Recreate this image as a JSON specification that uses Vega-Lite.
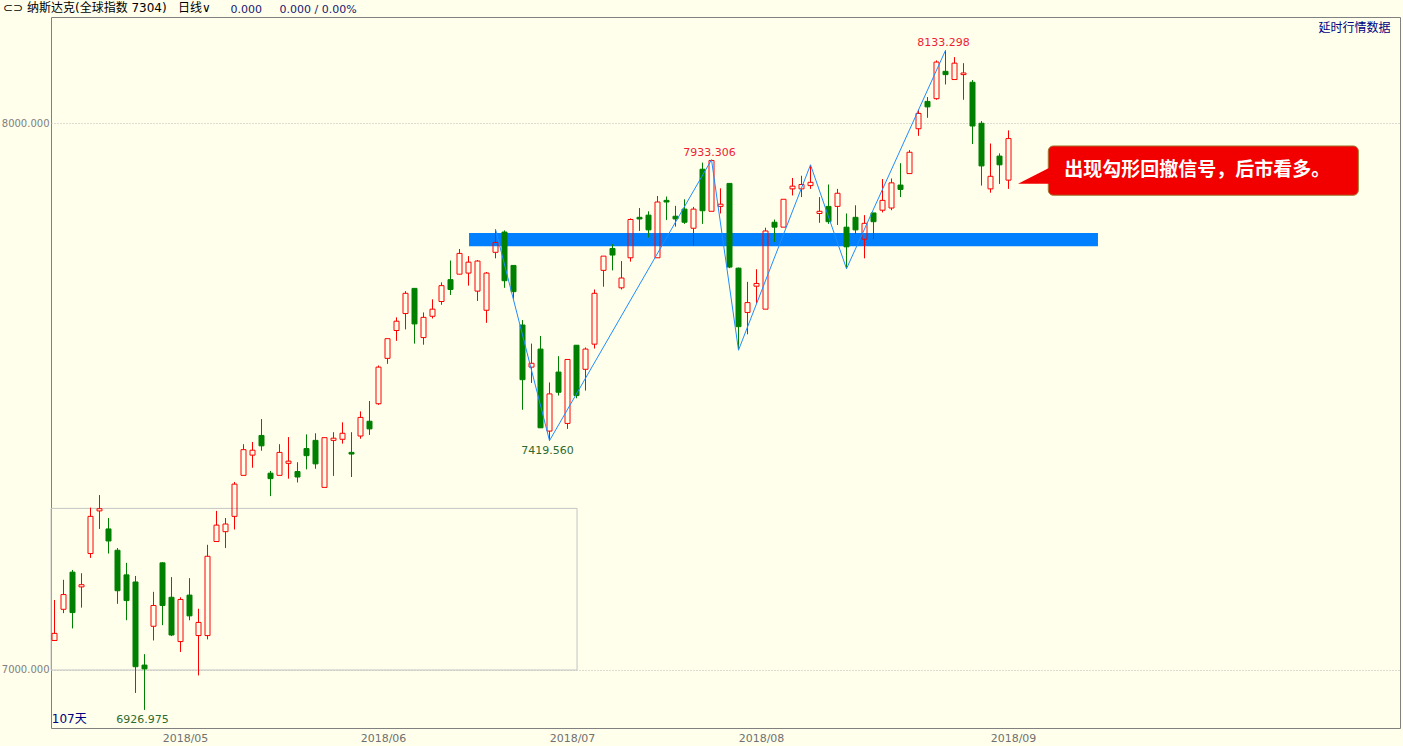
{
  "$schema": "https://vega.github.io/schema/vega-lite/v6.json",
  "width": 1349,
  "height": 711,
  "autosize": {"type": "none"},
  "padding": {"left": 51, "top": 17, "right": 3, "bottom": 18},
  "background": "#FFFFEC",
  "config": {
    "view": {"stroke": "#808080", "strokeWidth": 1, "fill": "#FFFFEC"},
    "axisX": {
      "labelFont": "DejaVu Sans", "labelFontSize": 11, "labelColor": "#707070",
      "ticks": false, "domain": false, "grid": false, "labelPadding": 4,
      "labelFlush": false, "labelOverlap": false,
      "titleFont": "Noto Sans CJK SC", "titleFontSize": 12, "titleFontWeight": "normal", "titleColor": "#000080"
    },
    "axisY": {
      "labelFont": "DejaVu Sans", "labelFontSize": 10, "labelColor": "#808080",
      "ticks": false, "domain": false, "grid": true, "gridColor": "#B8B8B8", "gridDash": [1, 2],
      "labelPadding": 2,
      "titleFont": "DejaVu Sans", "titleFontSize": 11, "titleFontWeight": "normal", "titleColor": "#191970"
    }
  },
  "datasets": {
    "k": [
      {"date":"2018-04-11","i":0,"o":7054,"h":7128,"l":7054,"c":7067},
      {"date":"2018-04-12","i":1,"o":7111,"h":7165,"l":7104,"c":7138},
      {"date":"2018-04-13","i":2,"o":7179,"h":7183,"l":7076,"c":7105},
      {"date":"2018-04-16","i":3,"o":7152,"h":7177,"l":7114,"c":7156},
      {"date":"2018-04-17","i":4,"o":7213,"h":7297,"l":7205,"c":7281},
      {"date":"2018-04-18","i":5,"o":7291,"h":7320,"l":7258,"c":7295},
      {"date":"2018-04-19","i":6,"o":7258,"h":7278,"l":7213,"c":7236},
      {"date":"2018-04-20","i":7,"o":7219,"h":7223,"l":7121,"c":7145},
      {"date":"2018-04-23","i":8,"o":7174,"h":7196,"l":7091,"c":7127},
      {"date":"2018-04-24","i":9,"o":7161,"h":7172,"l":6958,"c":7006},
      {"date":"2018-04-25","i":10,"o":7009,"h":7029,"l":6926.975,"c":7002},
      {"date":"2018-04-26","i":11,"o":7080,"h":7143,"l":7054,"c":7118},
      {"date":"2018-04-27","i":12,"o":7196,"h":7197,"l":7082,"c":7118},
      {"date":"2018-04-30","i":13,"o":7133,"h":7170,"l":7062,"c":7064},
      {"date":"2018-05-01","i":14,"o":7052,"h":7133,"l":7033,"c":7129},
      {"date":"2018-05-02","i":15,"o":7137,"h":7168,"l":7091,"c":7099},
      {"date":"2018-05-03","i":16,"o":7063,"h":7112,"l":6990,"c":7087},
      {"date":"2018-05-04","i":17,"o":7063,"h":7229,"l":7056,"c":7208},
      {"date":"2018-05-07","i":18,"o":7235,"h":7291,"l":7235,"c":7265},
      {"date":"2018-05-08","i":19,"o":7253,"h":7278,"l":7223,"c":7267},
      {"date":"2018-05-09","i":20,"o":7281,"h":7344,"l":7257,"c":7340},
      {"date":"2018-05-10","i":21,"o":7356,"h":7413,"l":7356,"c":7403},
      {"date":"2018-05-11","i":22,"o":7393,"h":7417,"l":7370,"c":7402},
      {"date":"2018-05-14","i":23,"o":7429,"h":7459,"l":7401,"c":7410},
      {"date":"2018-05-15","i":24,"o":7360,"h":7364,"l":7318,"c":7350},
      {"date":"2018-05-16","i":25,"o":7356,"h":7413,"l":7356,"c":7398},
      {"date":"2018-05-17","i":26,"o":7378,"h":7426,"l":7350,"c":7382},
      {"date":"2018-05-18","i":27,"o":7363,"h":7380,"l":7343,"c":7353},
      {"date":"2018-05-21","i":28,"o":7405,"h":7431,"l":7367,"c":7392},
      {"date":"2018-05-22","i":29,"o":7420,"h":7433,"l":7368,"c":7377},
      {"date":"2018-05-23","i":30,"o":7334,"h":7425,"l":7334,"c":7425},
      {"date":"2018-05-24","i":31,"o":7420,"h":7435,"l":7355,"c":7424},
      {"date":"2018-05-25","i":32,"o":7422,"h":7453,"l":7414,"c":7433},
      {"date":"2018-05-29","i":33,"o":7398,"h":7435,"l":7353,"c":7395},
      {"date":"2018-05-30","i":34,"o":7428,"h":7473,"l":7423,"c":7462},
      {"date":"2018-05-31","i":35,"o":7455,"h":7492,"l":7430,"c":7441},
      {"date":"2018-06-01","i":36,"o":7487,"h":7557,"l":7485,"c":7554},
      {"date":"2018-06-04","i":37,"o":7570,"h":7606,"l":7560,"c":7606},
      {"date":"2018-06-05","i":38,"o":7621,"h":7645,"l":7602,"c":7638},
      {"date":"2018-06-06","i":39,"o":7652,"h":7693,"l":7623,"c":7689},
      {"date":"2018-06-07","i":40,"o":7698,"h":7698,"l":7597,"c":7633},
      {"date":"2018-06-08","i":41,"o":7608,"h":7654,"l":7595,"c":7645},
      {"date":"2018-06-11","i":42,"o":7647,"h":7678,"l":7643,"c":7660},
      {"date":"2018-06-12","i":43,"o":7674,"h":7709,"l":7668,"c":7703},
      {"date":"2018-06-13","i":44,"o":7714,"h":7749,"l":7686,"c":7696},
      {"date":"2018-06-14","i":45,"o":7724,"h":7770,"l":7724,"c":7762},
      {"date":"2018-06-15","i":46,"o":7726,"h":7757,"l":7703,"c":7746},
      {"date":"2018-06-18","i":47,"o":7693,"h":7750,"l":7675,"c":7748},
      {"date":"2018-06-19","i":48,"o":7658,"h":7728,"l":7635,"c":7726},
      {"date":"2018-06-20","i":49,"o":7764,"h":7806,"l":7753,"c":7782},
      {"date":"2018-06-21","i":50,"o":7801,"h":7804,"l":7699,"c":7712},
      {"date":"2018-06-22","i":51,"o":7740,"h":7740,"l":7679,"c":7692},
      {"date":"2018-06-25","i":52,"o":7631,"h":7640,"l":7476,"c":7531},
      {"date":"2018-06-26","i":53,"o":7554,"h":7597,"l":7525,"c":7561},
      {"date":"2018-06-27","i":54,"o":7587,"h":7611,"l":7443,"c":7443},
      {"date":"2018-06-28","i":55,"o":7437,"h":7526,"l":7419.56,"c":7505},
      {"date":"2018-06-29","i":56,"o":7545,"h":7574,"l":7502,"c":7508},
      {"date":"2018-07-02","i":57,"o":7451,"h":7568,"l":7441,"c":7568},
      {"date":"2018-07-03","i":58,"o":7594,"h":7594,"l":7497,"c":7502},
      {"date":"2018-07-05","i":59,"o":7550,"h":7590,"l":7511,"c":7587},
      {"date":"2018-07-06","i":60,"o":7596,"h":7696,"l":7588,"c":7689},
      {"date":"2018-07-09","i":61,"o":7731,"h":7757,"l":7701,"c":7757},
      {"date":"2018-07-10","i":62,"o":7771,"h":7779,"l":7731,"c":7759},
      {"date":"2018-07-11","i":63,"o":7699,"h":7748,"l":7696,"c":7717},
      {"date":"2018-07-12","i":64,"o":7754,"h":7826,"l":7747,"c":7824},
      {"date":"2018-07-13","i":65,"o":7828,"h":7845,"l":7803,"c":7825},
      {"date":"2018-07-16","i":66,"o":7832,"h":7839,"l":7791,"c":7805},
      {"date":"2018-07-17","i":67,"o":7754,"h":7867,"l":7754,"c":7856},
      {"date":"2018-07-18","i":68,"o":7859,"h":7866,"l":7823,"c":7856},
      {"date":"2018-07-19","i":69,"o":7830,"h":7849,"l":7811,"c":7825},
      {"date":"2018-07-20","i":70,"o":7843,"h":7861,"l":7816,"c":7819},
      {"date":"2018-07-23","i":71,"o":7808,"h":7847,"l":7776,"c":7843},
      {"date":"2018-07-24","i":72,"o":7916,"h":7928,"l":7816,"c":7840},
      {"date":"2018-07-25","i":73,"o":7839,"h":7933.306,"l":7839,"c":7932},
      {"date":"2018-07-26","i":74,"o":7848,"h":7881,"l":7835,"c":7852},
      {"date":"2018-07-27","i":75,"o":7890,"h":7890,"l":7735,"c":7737},
      {"date":"2018-07-30","i":76,"o":7735,"h":7736,"l":7585,"c":7628},
      {"date":"2018-07-31","i":77,"o":7654,"h":7710,"l":7614,"c":7672},
      {"date":"2018-08-01","i":78,"o":7702,"h":7733,"l":7670,"c":7707},
      {"date":"2018-08-02","i":79,"o":7660,"h":7809,"l":7660,"c":7803},
      {"date":"2018-08-03","i":80,"o":7819,"h":7824,"l":7783,"c":7810},
      {"date":"2018-08-06","i":81,"o":7810,"h":7861,"l":7810,"c":7861},
      {"date":"2018-08-07","i":82,"o":7880,"h":7900,"l":7868,"c":7885},
      {"date":"2018-08-08","i":83,"o":7880,"h":7904,"l":7865,"c":7888},
      {"date":"2018-08-09","i":84,"o":7886,"h":7924,"l":7880,"c":7892},
      {"date":"2018-08-10","i":85,"o":7835,"h":7865,"l":7818,"c":7839},
      {"date":"2018-08-13","i":86,"o":7848,"h":7888,"l":7816,"c":7820},
      {"date":"2018-08-14","i":87,"o":7848,"h":7880,"l":7814,"c":7872},
      {"date":"2018-08-15","i":88,"o":7810,"h":7835,"l":7734,"c":7774},
      {"date":"2018-08-16","i":89,"o":7828,"h":7850,"l":7797,"c":7805},
      {"date":"2018-08-17","i":90,"o":7788,"h":7832,"l":7753,"c":7817},
      {"date":"2018-08-20","i":91,"o":7836,"h":7836,"l":7788,"c":7820},
      {"date":"2018-08-21","i":92,"o":7841,"h":7898,"l":7837,"c":7859},
      {"date":"2018-08-22","i":93,"o":7845,"h":7899,"l":7841,"c":7891},
      {"date":"2018-08-23","i":94,"o":7887,"h":7927,"l":7865,"c":7879},
      {"date":"2018-08-24","i":95,"o":7908,"h":7951,"l":7908,"c":7947},
      {"date":"2018-08-27","i":96,"o":7990,"h":8025,"l":7977,"c":8018},
      {"date":"2018-08-28","i":97,"o":8040,"h":8048,"l":8010,"c":8030},
      {"date":"2018-08-29","i":98,"o":8045,"h":8115,"l":8043,"c":8112},
      {"date":"2018-08-30","i":99,"o":8095,"h":8133.298,"l":8071,"c":8089},
      {"date":"2018-08-31","i":100,"o":8080,"h":8121,"l":8080,"c":8110},
      {"date":"2018-09-04","i":101,"o":8089,"h":8110,"l":8043,"c":8092},
      {"date":"2018-09-05","i":102,"o":8075,"h":8079,"l":7962,"c":7995},
      {"date":"2018-09-06","i":103,"o":8000,"h":8004,"l":7886,"c":7922},
      {"date":"2018-09-07","i":104,"o":7880,"h":7963,"l":7873,"c":7903},
      {"date":"2018-09-10","i":105,"o":7940,"h":7945,"l":7889,"c":7924},
      {"date":"2018-09-11","i":106,"o":7896,"h":7987,"l":7880,"c":7972}
    ],
    "zz": [
      {"i":49,"p":7806},
      {"i":55,"p":7419.56},
      {"i":73,"p":7933.306},
      {"i":76,"p":7585},
      {"i":84,"p":7924},
      {"i":88,"p":7734},
      {"i":99,"p":8133.298}
    ],
    "ext": [
      {"i":10,"p":6926.975,"t":"6926.975","k":"low"},
      {"i":55,"p":7419.56,"t":"7419.560","k":"low"},
      {"i":73,"p":7933.306,"t":"7933.306","k":"high"},
      {"i":99,"p":8133.298,"t":"8133.298","k":"high"}
    ],
    "band": [{"i1":46.06,"i2":115.94,"p1":7775.1,"p2":7799.5}],
    "box": [{"i1":-0.3889,"i2":58.06,"p1":7000,"p2":7295.6}],
    "call": [{"i1":110.42,"i2":144.87,"p1":7868.4,"p2":7958.5,"ti":112.2,"tp":7914.1,"t":"出现勾形回撤信号，后市看多。"}],
    "ptr": [
      {"i":107.06,"top":7889.4,"bot":7889.4},
      {"i":110.6,"top":7919.0,"bot":7889.4}
    ],
    "note": [{"i":-0.3,"p":6910.4,"t":"107天"}],
    "head": [{"i":-5.72,"p":8210,"t":"⊂⊃ 纳斯达克(全球指数 7304)\u00a0\u00a0\u00a0日线∨"}]
  },
  "layer": [
    {
      "data": {"name": "box"},
      "mark": {"type": "rect", "fill": null, "fillOpacity": 0, "stroke": "#C4C4C4", "strokeWidth": 1},
      "encoding": {
        "x": {"field": "i1", "type": "quantitative", "scale": {"domain": [-0.3889, 149.5], "nice": false, "zero": false, "padding": 0},
              "axis": {"values": [14.5, 36.5, 57.5, 78.5, 106.5], "labelExpr": "datum.value < 20 ? '2018/05' : datum.value < 40 ? '2018/06' : datum.value < 60 ? '2018/07' : datum.value < 90 ? '2018/08' : '2018/09'", "title": "延时行情数据", "titleX": 1339, "titleY": -701, "titleAlign": "right", "titleBaseline": "middle", "titleAngle": 0}},
        "x2": {"field": "i2"},
        "y": {"field": "p1", "type": "quantitative", "scale": {"domain": [6893.9, 8194.4], "nice": false, "zero": false},
              "axis": {"values": [7000, 8000], "format": ".3f", "title": "0.000\u00a0\u00a0\u00a0\u00a0\u00a00.000 / 0.00%", "titleX": 179, "titleY": -8, "titleAngle": 0, "titleAlign": "left", "titleBaseline": "middle"}},
        "y2": {"field": "p2"}
      }
    },
    {
      "data": {"name": "band"},
      "mark": {"type": "rect", "color": "#0080FF"},
      "encoding": {
        "x": {"field": "i1", "type": "quantitative", "scale": {"domain": [-0.3889, 149.5], "nice": false, "zero": false, "padding": 0},
              "axis": {"values": [14.5, 36.5, 57.5, 78.5, 106.5], "labelExpr": "datum.value < 20 ? '2018/05' : datum.value < 40 ? '2018/06' : datum.value < 60 ? '2018/07' : datum.value < 90 ? '2018/08' : '2018/09'", "title": "延时行情数据", "titleX": 1339, "titleY": -701, "titleAlign": "right", "titleBaseline": "middle", "titleAngle": 0}},
        "x2": {"field": "i2"},
        "y": {"field": "p1", "type": "quantitative", "scale": {"domain": [6893.9, 8194.4], "nice": false, "zero": false},
              "axis": {"values": [7000, 8000], "format": ".3f", "title": "0.000\u00a0\u00a0\u00a0\u00a0\u00a00.000 / 0.00%", "titleX": 179, "titleY": -8, "titleAngle": 0, "titleAlign": "left", "titleBaseline": "middle"}},
        "y2": {"field": "p2"}
      }
    },
    {
      "data": {"name": "k"},
      "transform": [{"filter": "datum.c < datum.o"}],
      "mark": {"type": "rule", "color": "#008000", "strokeWidth": 1},
      "encoding": {
        "x": {"field": "i", "type": "quantitative", "scale": {"domain": [-0.3889, 149.5], "nice": false, "zero": false, "padding": 0},
              "axis": {"values": [14.5, 36.5, 57.5, 78.5, 106.5], "labelExpr": "datum.value < 20 ? '2018/05' : datum.value < 40 ? '2018/06' : datum.value < 60 ? '2018/07' : datum.value < 90 ? '2018/08' : '2018/09'", "title": "延时行情数据", "titleX": 1339, "titleY": -701, "titleAlign": "right", "titleBaseline": "middle", "titleAngle": 0}},
        "y": {"field": "h", "type": "quantitative", "scale": {"domain": [6893.9, 8194.4], "nice": false, "zero": false},
              "axis": {"values": [7000, 8000], "format": ".3f", "title": "0.000\u00a0\u00a0\u00a0\u00a0\u00a00.000 / 0.00%", "titleX": 179, "titleY": -8, "titleAngle": 0, "titleAlign": "left", "titleBaseline": "middle"}},
        "y2": {"field": "l"}
      }
    },
    {
      "data": {"name": "k"},
      "transform": [{"filter": "datum.c >= datum.o"}],
      "mark": {"type": "rule", "color": "#FF0000", "strokeWidth": 1},
      "encoding": {
        "x": {"field": "i", "type": "quantitative", "scale": {"domain": [-0.3889, 149.5], "nice": false, "zero": false, "padding": 0},
              "axis": {"values": [14.5, 36.5, 57.5, 78.5, 106.5], "labelExpr": "datum.value < 20 ? '2018/05' : datum.value < 40 ? '2018/06' : datum.value < 60 ? '2018/07' : datum.value < 90 ? '2018/08' : '2018/09'", "title": "延时行情数据", "titleX": 1339, "titleY": -701, "titleAlign": "right", "titleBaseline": "middle", "titleAngle": 0}},
        "y": {"field": "h", "type": "quantitative", "scale": {"domain": [6893.9, 8194.4], "nice": false, "zero": false},
              "axis": {"values": [7000, 8000], "format": ".3f", "title": "0.000\u00a0\u00a0\u00a0\u00a0\u00a00.000 / 0.00%", "titleX": 179, "titleY": -8, "titleAngle": 0, "titleAlign": "left", "titleBaseline": "middle"}},
        "y2": {"field": "c"}
      }
    },
    {
      "data": {"name": "k"},
      "transform": [{"filter": "datum.c >= datum.o"}],
      "mark": {"type": "rule", "color": "#FF0000", "strokeWidth": 1},
      "encoding": {
        "x": {"field": "i", "type": "quantitative", "scale": {"domain": [-0.3889, 149.5], "nice": false, "zero": false, "padding": 0},
              "axis": {"values": [14.5, 36.5, 57.5, 78.5, 106.5], "labelExpr": "datum.value < 20 ? '2018/05' : datum.value < 40 ? '2018/06' : datum.value < 60 ? '2018/07' : datum.value < 90 ? '2018/08' : '2018/09'", "title": "延时行情数据", "titleX": 1339, "titleY": -701, "titleAlign": "right", "titleBaseline": "middle", "titleAngle": 0}},
        "y": {"field": "o", "type": "quantitative", "scale": {"domain": [6893.9, 8194.4], "nice": false, "zero": false},
              "axis": {"values": [7000, 8000], "format": ".3f", "title": "0.000\u00a0\u00a0\u00a0\u00a0\u00a00.000 / 0.00%", "titleX": 179, "titleY": -8, "titleAngle": 0, "titleAlign": "left", "titleBaseline": "middle"}},
        "y2": {"field": "l"}
      }
    },
    {
      "data": {"name": "k"},
      "mark": {"type": "bar", "size": 5, "strokeWidth": 1},
      "encoding": {
        "x": {"field": "i", "type": "quantitative", "scale": {"domain": [-0.3889, 149.5], "nice": false, "zero": false, "padding": 0},
              "axis": {"values": [14.5, 36.5, 57.5, 78.5, 106.5], "labelExpr": "datum.value < 20 ? '2018/05' : datum.value < 40 ? '2018/06' : datum.value < 60 ? '2018/07' : datum.value < 90 ? '2018/08' : '2018/09'", "title": "延时行情数据", "titleX": 1339, "titleY": -701, "titleAlign": "right", "titleBaseline": "middle", "titleAngle": 0}},
        "y": {"field": "o", "type": "quantitative", "scale": {"domain": [6893.9, 8194.4], "nice": false, "zero": false},
              "axis": {"values": [7000, 8000], "format": ".3f", "title": "0.000\u00a0\u00a0\u00a0\u00a0\u00a00.000 / 0.00%", "titleX": 179, "titleY": -8, "titleAngle": 0, "titleAlign": "left", "titleBaseline": "middle"}},
        "y2": {"field": "c"},
        "fill": {"condition": {"test": "datum.c >= datum.o", "value": "transparent"}, "value": "#008000"},
        "stroke": {"condition": {"test": "datum.c >= datum.o", "value": "#FF0000"}, "value": "#008000"}
      }
    },
    {
      "data": {"name": "zz"},
      "mark": {"type": "line", "color": "#1E8CFF", "strokeWidth": 1},
      "encoding": {
        "x": {"field": "i", "type": "quantitative", "scale": {"domain": [-0.3889, 149.5], "nice": false, "zero": false, "padding": 0},
              "axis": {"values": [14.5, 36.5, 57.5, 78.5, 106.5], "labelExpr": "datum.value < 20 ? '2018/05' : datum.value < 40 ? '2018/06' : datum.value < 60 ? '2018/07' : datum.value < 90 ? '2018/08' : '2018/09'", "title": "延时行情数据", "titleX": 1339, "titleY": -701, "titleAlign": "right", "titleBaseline": "middle", "titleAngle": 0}},
        "y": {"field": "p", "type": "quantitative", "scale": {"domain": [6893.9, 8194.4], "nice": false, "zero": false},
              "axis": {"values": [7000, 8000], "format": ".3f", "title": "0.000\u00a0\u00a0\u00a0\u00a0\u00a00.000 / 0.00%", "titleX": 179, "titleY": -8, "titleAngle": 0, "titleAlign": "left", "titleBaseline": "middle"}}
      }
    },
    {
      "data": {"name": "ext"},
      "transform": [{"filter": "datum.k == 'high'"}],
      "mark": {"type": "text", "font": "DejaVu Sans", "fontSize": 11, "color": "#EE2233", "baseline": "bottom", "align": "center", "dy": -2, "dx": -2},
      "encoding": {
        "x": {"field": "i", "type": "quantitative", "scale": {"domain": [-0.3889, 149.5], "nice": false, "zero": false, "padding": 0},
              "axis": {"values": [14.5, 36.5, 57.5, 78.5, 106.5], "labelExpr": "datum.value < 20 ? '2018/05' : datum.value < 40 ? '2018/06' : datum.value < 60 ? '2018/07' : datum.value < 90 ? '2018/08' : '2018/09'", "title": "延时行情数据", "titleX": 1339, "titleY": -701, "titleAlign": "right", "titleBaseline": "middle", "titleAngle": 0}},
        "y": {"field": "p", "type": "quantitative", "scale": {"domain": [6893.9, 8194.4], "nice": false, "zero": false},
              "axis": {"values": [7000, 8000], "format": ".3f", "title": "0.000\u00a0\u00a0\u00a0\u00a0\u00a00.000 / 0.00%", "titleX": 179, "titleY": -8, "titleAngle": 0, "titleAlign": "left", "titleBaseline": "middle"}},
        "text": {"field": "t"}
      }
    },
    {
      "data": {"name": "ext"},
      "transform": [{"filter": "datum.k == 'low'"}],
      "mark": {"type": "text", "font": "DejaVu Sans", "fontSize": 11, "color": "#2E6B2E", "baseline": "top", "align": "center", "dy": 4, "dx": -2},
      "encoding": {
        "x": {"field": "i", "type": "quantitative", "scale": {"domain": [-0.3889, 149.5], "nice": false, "zero": false, "padding": 0},
              "axis": {"values": [14.5, 36.5, 57.5, 78.5, 106.5], "labelExpr": "datum.value < 20 ? '2018/05' : datum.value < 40 ? '2018/06' : datum.value < 60 ? '2018/07' : datum.value < 90 ? '2018/08' : '2018/09'", "title": "延时行情数据", "titleX": 1339, "titleY": -701, "titleAlign": "right", "titleBaseline": "middle", "titleAngle": 0}},
        "y": {"field": "p", "type": "quantitative", "scale": {"domain": [6893.9, 8194.4], "nice": false, "zero": false},
              "axis": {"values": [7000, 8000], "format": ".3f", "title": "0.000\u00a0\u00a0\u00a0\u00a0\u00a00.000 / 0.00%", "titleX": 179, "titleY": -8, "titleAngle": 0, "titleAlign": "left", "titleBaseline": "middle"}},
        "text": {"field": "t"}
      }
    },
    {
      "data": {"name": "note"},
      "mark": {"type": "text", "font": "DejaVu Sans, Noto Sans CJK SC", "fontSize": 12, "color": "#000080", "baseline": "middle", "align": "left"},
      "encoding": {
        "x": {"field": "i", "type": "quantitative", "scale": {"domain": [-0.3889, 149.5], "nice": false, "zero": false, "padding": 0},
              "axis": {"values": [14.5, 36.5, 57.5, 78.5, 106.5], "labelExpr": "datum.value < 20 ? '2018/05' : datum.value < 40 ? '2018/06' : datum.value < 60 ? '2018/07' : datum.value < 90 ? '2018/08' : '2018/09'", "title": "延时行情数据", "titleX": 1339, "titleY": -701, "titleAlign": "right", "titleBaseline": "middle", "titleAngle": 0}},
        "y": {"field": "p", "type": "quantitative", "scale": {"domain": [6893.9, 8194.4], "nice": false, "zero": false},
              "axis": {"values": [7000, 8000], "format": ".3f", "title": "0.000\u00a0\u00a0\u00a0\u00a0\u00a00.000 / 0.00%", "titleX": 179, "titleY": -8, "titleAngle": 0, "titleAlign": "left", "titleBaseline": "middle"}},
        "text": {"field": "t"}
      }
    },
    {
      "data": {"name": "head"},
      "mark": {"type": "text", "font": "DejaVu Sans, Noto Sans CJK SC", "fontSize": 12, "color": "#000000", "baseline": "middle", "align": "left"},
      "encoding": {
        "x": {"field": "i", "type": "quantitative", "scale": {"domain": [-0.3889, 149.5], "nice": false, "zero": false, "padding": 0},
              "axis": {"values": [14.5, 36.5, 57.5, 78.5, 106.5], "labelExpr": "datum.value < 20 ? '2018/05' : datum.value < 40 ? '2018/06' : datum.value < 60 ? '2018/07' : datum.value < 90 ? '2018/08' : '2018/09'", "title": "延时行情数据", "titleX": 1339, "titleY": -701, "titleAlign": "right", "titleBaseline": "middle", "titleAngle": 0}},
        "y": {"field": "p", "type": "quantitative", "scale": {"domain": [6893.9, 8194.4], "nice": false, "zero": false},
              "axis": {"values": [7000, 8000], "format": ".3f", "title": "0.000\u00a0\u00a0\u00a0\u00a0\u00a00.000 / 0.00%", "titleX": 179, "titleY": -8, "titleAngle": 0, "titleAlign": "left", "titleBaseline": "middle"}},
        "text": {"field": "t"}
      }
    },
    {
      "data": {"name": "call"},
      "mark": {"type": "rect", "fill": "#F20000", "stroke": "#A07830", "strokeWidth": 1, "cornerRadius": 5},
      "encoding": {
        "x": {"field": "i1", "type": "quantitative", "scale": {"domain": [-0.3889, 149.5], "nice": false, "zero": false, "padding": 0},
              "axis": {"values": [14.5, 36.5, 57.5, 78.5, 106.5], "labelExpr": "datum.value < 20 ? '2018/05' : datum.value < 40 ? '2018/06' : datum.value < 60 ? '2018/07' : datum.value < 90 ? '2018/08' : '2018/09'", "title": "延时行情数据", "titleX": 1339, "titleY": -701, "titleAlign": "right", "titleBaseline": "middle", "titleAngle": 0}},
        "x2": {"field": "i2"},
        "y": {"field": "p1", "type": "quantitative", "scale": {"domain": [6893.9, 8194.4], "nice": false, "zero": false},
              "axis": {"values": [7000, 8000], "format": ".3f", "title": "0.000\u00a0\u00a0\u00a0\u00a0\u00a00.000 / 0.00%", "titleX": 179, "titleY": -8, "titleAngle": 0, "titleAlign": "left", "titleBaseline": "middle"}},
        "y2": {"field": "p2"}
      }
    },
    {
      "data": {"name": "ptr"},
      "mark": {"type": "area", "color": "#F20000", "orient": "vertical"},
      "encoding": {
        "x": {"field": "i", "type": "quantitative", "scale": {"domain": [-0.3889, 149.5], "nice": false, "zero": false, "padding": 0},
              "axis": {"values": [14.5, 36.5, 57.5, 78.5, 106.5], "labelExpr": "datum.value < 20 ? '2018/05' : datum.value < 40 ? '2018/06' : datum.value < 60 ? '2018/07' : datum.value < 90 ? '2018/08' : '2018/09'", "title": "延时行情数据", "titleX": 1339, "titleY": -701, "titleAlign": "right", "titleBaseline": "middle", "titleAngle": 0}},
        "y": {"field": "top", "type": "quantitative", "scale": {"domain": [6893.9, 8194.4], "nice": false, "zero": false},
              "axis": {"values": [7000, 8000], "format": ".3f", "title": "0.000\u00a0\u00a0\u00a0\u00a0\u00a00.000 / 0.00%", "titleX": 179, "titleY": -8, "titleAngle": 0, "titleAlign": "left", "titleBaseline": "middle"}},
        "y2": {"field": "bot"}
      }
    },
    {
      "data": {"name": "call"},
      "mark": {"type": "text", "font": "Noto Sans CJK SC", "fontSize": 19, "fontWeight": "bold", "color": "#FFFFFF", "baseline": "middle", "align": "left"},
      "encoding": {
        "x": {"field": "ti", "type": "quantitative", "scale": {"domain": [-0.3889, 149.5], "nice": false, "zero": false, "padding": 0},
              "axis": {"values": [14.5, 36.5, 57.5, 78.5, 106.5], "labelExpr": "datum.value < 20 ? '2018/05' : datum.value < 40 ? '2018/06' : datum.value < 60 ? '2018/07' : datum.value < 90 ? '2018/08' : '2018/09'", "title": "延时行情数据", "titleX": 1339, "titleY": -701, "titleAlign": "right", "titleBaseline": "middle", "titleAngle": 0}},
        "y": {"field": "tp", "type": "quantitative", "scale": {"domain": [6893.9, 8194.4], "nice": false, "zero": false},
              "axis": {"values": [7000, 8000], "format": ".3f", "title": "0.000\u00a0\u00a0\u00a0\u00a0\u00a00.000 / 0.00%", "titleX": 179, "titleY": -8, "titleAngle": 0, "titleAlign": "left", "titleBaseline": "middle"}},
        "text": {"field": "t"}
      }
    }
  ]
}
